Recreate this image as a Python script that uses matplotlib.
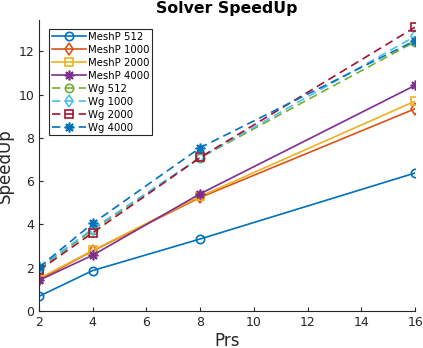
import matplotlib
matplotlib.use("Agg")
import matplotlib.pyplot as plt

prs = [2, 4, 8, 16]

meshp_512 = [0.68, 1.87, 3.33, 6.38]
meshp_1000 = [1.45, 2.78, 5.25, 9.35]
meshp_2000 = [1.5, 2.8, 5.3, 9.7]
meshp_4000 = [1.42, 2.58, 5.42, 10.43]
wg_512 = [1.95, 3.75, 7.08, 12.45]
wg_1000 = [2.0, 3.8, 7.1, 12.7]
wg_2000 = [1.88, 3.62, 7.1, 13.12]
wg_4000 = [2.02, 4.05, 7.55, 12.5]

labels = ["MeshP 512", "MeshP 1000", "MeshP 2000", "MeshP 4000",
          "Wg 512", "Wg 1000", "Wg 2000", "Wg 4000"]
series = [meshp_512, meshp_1000, meshp_2000, meshp_4000,
          wg_512, wg_1000, wg_2000, wg_4000]
colors = ["#0072BD", "#D95319", "#EDB120", "#7E2F8E",
          "#77AC30", "#4DBEEE", "#A2142F", "#0072BD"]
asterisk = (8, 2, 0)
markers = ["o", "d", "s", asterisk, "o", "d", "s", asterisk]
styles = ["-", "-", "-", "-", "--", "--", "--", "--"]

fig = plt.figure(figsize=(4.23, 3.48), dpi=100)
ax = fig.add_axes([0.0922, 0.1063, 0.889, 0.836])

for y, lab, c, m, ls in zip(series, labels, colors, markers, styles):
    ms = 7 if m == asterisk else 6
    ax.plot(prs, y, linestyle=ls, color=c, marker=m, markersize=ms,
            markerfacecolor="none", markeredgewidth=1.2,
            linewidth=1.2, dashes=(5, 3) if ls == "--" else (None, None),
            label=lab)

ax.set_xlim(2, 16)
ax.set_ylim(0, 13.45)
ax.set_xticks(range(2, 17, 2))
ax.set_yticks(range(0, 13, 2))
ax.spines["top"].set_visible(False)
ax.spines["right"].set_visible(False)
for s in ["left", "bottom"]:
    ax.spines[s].set_color("#262626")
    ax.spines[s].set_linewidth(0.8)
ax.tick_params(direction="in", length=3, colors="#262626", labelsize=9)

ax.set_title("Solver SpeedUp", fontsize=11.3, fontweight="bold", pad=5)
ax.set_xlabel("Prs", fontsize=12, color="#262626", labelpad=2)
ax.set_ylabel("SpeedUp", fontsize=12, color="#262626", labelpad=3)

leg = ax.legend(loc="upper left", bbox_to_anchor=(0.027, 0.969),
                borderaxespad=0, fontsize=7.3, frameon=True, fancybox=False,
                edgecolor="#262626", framealpha=1, handlelength=3.4,
                borderpad=0.25, labelspacing=0.3, handletextpad=0.2)
leg.get_frame().set_linewidth(0.8)

fig.savefig("out.png", dpi=100)
